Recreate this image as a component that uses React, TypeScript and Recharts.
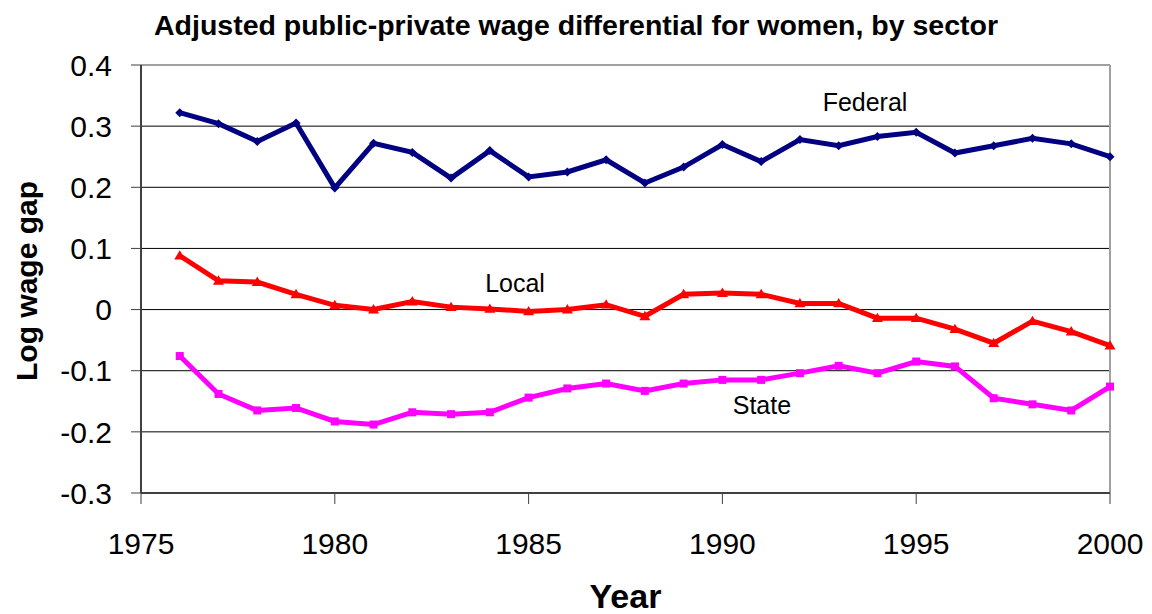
import React from 'react';
import { LineChart, Line, XAxis, YAxis, CartesianGrid, ReferenceLine, ReferenceDot, Label } from 'recharts';

const years = [1976, 1977, 1978, 1979, 1980, 1981, 1982, 1983, 1984, 1985, 1986, 1987, 1988, 1989, 1990, 1991, 1992, 1993, 1994, 1995, 1996, 1997, 1998, 1999, 2000];
const federal = [0.322, 0.304, 0.275, 0.305, 0.199, 0.272, 0.257, 0.215, 0.260, 0.217, 0.225, 0.245, 0.207, 0.233, 0.270, 0.242, 0.278, 0.268, 0.283, 0.290, 0.256, 0.268, 0.280, 0.271, 0.250];
const local = [0.088, 0.047, 0.045, 0.025, 0.007, 0.000, 0.013, 0.004, 0.001, -0.003, 0.000, 0.008, -0.011, 0.025, 0.027, 0.025, 0.010, 0.010, -0.014, -0.014, -0.032, -0.055, -0.019, -0.036, -0.059];
const state = [-0.076, -0.138, -0.165, -0.161, -0.183, -0.188, -0.168, -0.171, -0.168, -0.144, -0.129, -0.121, -0.133, -0.121, -0.115, -0.115, -0.104, -0.092, -0.104, -0.085, -0.093, -0.145, -0.155, -0.165, -0.126];
const xTicks = [1975, 1980, 1985, 1990, 1995, 2000];
const yTicks = [-0.3, -0.2, -0.1, 0, 0.1, 0.2, 0.3, 0.4];
const gridValues = [-0.2, -0.1, 0, 0.1, 0.2, 0.3];
const seriesLabels = [
  { text: 'Federal', x: 1993.68, y: 0.34 },
  { text: 'Local', x: 1984.65, y: 0.044 },
  { text: 'State', x: 1991.02, y: -0.157 },
];

const data = years.map((y, i) => ({ year: y, federal: federal[i], local: local[i], state: state[i] }));

const FONT = '"Liberation Sans", Arial, sans-serif';

const DiamondDot = (p: any) => {
  const { cx, cy, index } = p;
  if (cx == null || cy == null) return <g key={index} />;
  const s = 4.5;
  return <path key={index} d={`M${cx},${cy - s}L${cx + s},${cy}L${cx},${cy + s}L${cx - s},${cy}Z`} fill="#000080" />;
};
const TriangleDot = (p: any) => {
  const { cx, cy, index } = p;
  if (cx == null || cy == null) return <g key={index} />;
  const s = 5.5;
  return <path key={index} d={`M${cx},${cy - s}L${cx + s},${cy + s * 0.7}L${cx - s},${cy + s * 0.7}Z`} fill="#FF0000" />;
};
const SquareDot = (p: any) => {
  const { cx, cy, index } = p;
  if (cx == null || cy == null) return <g key={index} />;
  const s = 4;
  return <rect key={index} x={cx - s} y={cy - s} width={2 * s} height={2 * s} fill="#FF00FF" />;
};

const fmt = (v: number) => (v === 0 ? '0' : String(Math.round(v * 10) / 10));

export default function App() {
  return (
    <div style={{ position: 'absolute', left: 0, top: 0, width: 1152, height: 614, background: '#fff', fontFamily: FONT }}>
      <div style={{ position: 'absolute', left: 0, top: 11, width: 1152, textAlign: 'center', fontSize: 28.5, fontWeight: 'bold', lineHeight: 1, color: '#000' }}>
        Adjusted public-private wage differential for women, by sector
      </div>
      <LineChart width={1152} height={614} data={data} margin={{ top: 65, right: 42, bottom: 0, left: 0 }} style={{ fontFamily: FONT }}>
        <CartesianGrid horizontal={true} vertical={false} stroke="#000" strokeWidth={1} horizontalValues={gridValues} />
        <ReferenceLine y={0.4} stroke="#a0a0a0" strokeWidth={2} />
        <ReferenceLine x={2000} stroke="#a0a0a0" strokeWidth={2} />
        <XAxis
          dataKey="year"
          type="number"
          domain={[1975, 2000]}
          ticks={xTicks}
          height={121}
          tickSize={11}
          tickMargin={29}
          stroke="#404040"
          strokeWidth={2}
          tick={{ fill: '#000', fontSize: 30, fontFamily: FONT }}
          tickLine={{ stroke: '#404040', strokeWidth: 1 }}
        >
          <Label value="Year" position="insideBottom" offset={6} style={{ fontSize: 34, fontWeight: 'bold', fill: '#000', fontFamily: FONT }} />
        </XAxis>
        <YAxis
          type="number"
          domain={[-0.3, 0.4]}
          ticks={yTicks}
          width={141}
          tickSize={10}
          tickMargin={19}
          stroke="#404040"
          strokeWidth={2}
          tickFormatter={fmt}
          tick={{ fill: '#000', fontSize: 30, fontFamily: FONT }}
          tickLine={{ stroke: '#404040', strokeWidth: 1 }}
          label={(props: any) => {
            const vb = props.viewBox || { x: 0, y: 65, width: 141, height: 428 };
            const cx = 26;
            const cy = vb.y + vb.height / 2 + 2;
            return (
              <text x={cx} y={cy} transform={`rotate(-90, ${cx}, ${cy})`} textAnchor="middle" dominantBaseline="central" style={{ fontSize: 30, fontWeight: 'bold', fill: '#000', fontFamily: FONT }}>
                Log wage gap
              </text>
            );
          }}
        />
        <Line type="linear" dataKey="federal" stroke="#000080" strokeWidth={5} dot={DiamondDot} activeDot={false} isAnimationActive={false} />
        <Line type="linear" dataKey="local" stroke="#FF0000" strokeWidth={5} dot={TriangleDot} activeDot={false} isAnimationActive={false} />
        <Line type="linear" dataKey="state" stroke="#FF00FF" strokeWidth={5} dot={SquareDot} activeDot={false} isAnimationActive={false} />
        {seriesLabels.map((l) => (
          <ReferenceDot key={l.text} x={l.x} y={l.y} r={0} stroke="none" fill="none"
            label={{ value: l.text, position: 'center', fontSize: 25, fill: '#000', fontFamily: FONT }} />
        ))}
      </LineChart>
    </div>
  );
}
